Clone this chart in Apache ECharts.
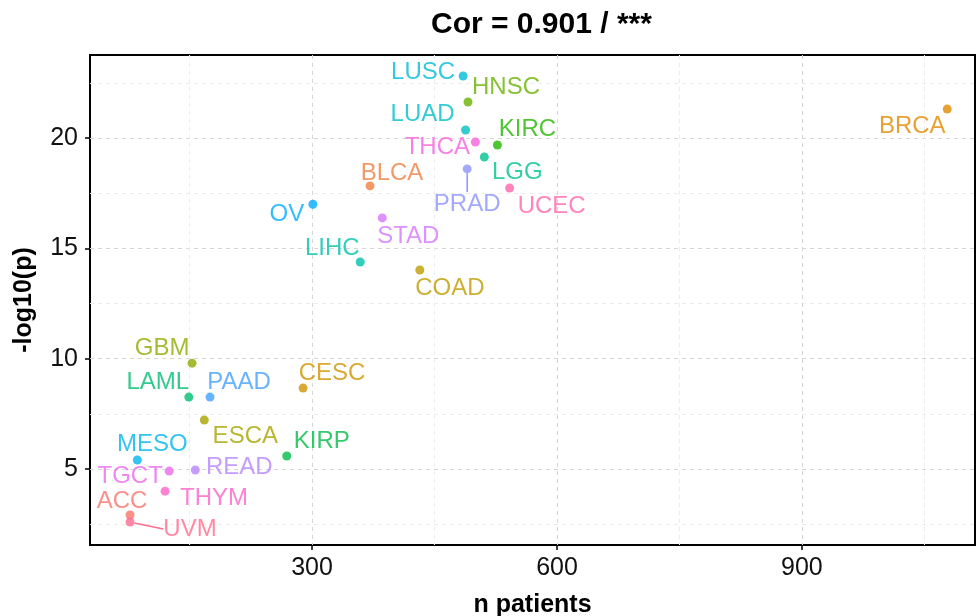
<!DOCTYPE html>
<html>
<head>
<meta charset="utf-8">
<title>Cor = 0.901</title>
<script src="https://cdn.jsdelivr.net/npm/echarts@6/dist/echarts.min.js"></script>
<style>
    html, body { margin: 0; padding: 0; background: #fff; }
    #chart { width: 978px; height: 616px; }
</style>
</head>
<body>
<div id="chart"></div>
<script>
// data
const cancers = ["ACC", "BLCA", "BRCA", "CESC", "COAD", "ESCA", "GBM", "HNSC", "KIRC", "KIRP",
    "LAML", "LGG", "LIHC", "LUAD", "LUSC", "MESO", "OV", "PAAD", "PRAD", "READ",
    "STAD", "TGCT", "THCA", "THYM", "UCEC", "UVM"]
const nPatients = [77, 371, 1078, 289, 432, 168, 153, 491, 527, 269,
    149, 511, 359, 488, 485, 86, 301, 175, 490, 157,
    386, 125, 500, 120, 542, 77]
const negLogP = [2.92, 17.83, 21.31, 8.67, 14.02, 7.22, 9.8, 21.63, 19.68, 5.59,
    8.26, 19.14, 14.38, 20.36, 22.81, 5.41, 17.0, 8.26, 18.6, 4.96,
    16.38, 4.91, 19.82, 4.0, 17.73, 2.6]
const xTicks = [300, 600, 900]
const xMinor = [150, 450, 750, 1050]
const yTicks = [5, 10, 15, 20]
const yMinor = [2.5, 7.5, 12.5, 17.5, 22.5]

// where the repelled labels sit, relative to their point (px)
const labelShift = {
    ACC: [-8, -15], BLCA: [22, -14], BRCA: [-35, 16], CESC: [29, -16], COAD: [30, 17],
    ESCA: [41, 15], GBM: [-30, -16], HNSC: [38, -16], KIRC: [30, -17], KIRP: [35, -16],
    LAML: [-31, -16], LGG: [33, 14], LIHC: [-28, -15], LUAD: [-43, -17], LUSC: [-40, -5],
    MESO: [15, -17], OV: [-26, 9], PAAD: [29, -16], PRAD: [0, 34], READ: [44, -4],
    STAD: [26, 17], TGCT: [-39, 4], THCA: [-38, 4], THYM: [49, 6], UCEC: [42, 17],
    UVM: [60, 6],
}
const withSegment = ["PRAD", "UVM"]

// ggplot2 default hue palette (hcl, c = 100, l = 65)
function hcl(h, c, l) {
    const hr = h * Math.PI / 180
    const U = c * Math.cos(hr), V = c * Math.sin(hr)
    const Y = l > 8 ? 100 * Math.pow((l + 16) / 116, 3) : 100 * l / 903.3
    const un = 0.1978398, vn = 0.4683363
    const u = U / (13 * l) + un, v = V / (13 * l) + vn
    const X = 9 * Y * u / (4 * v)
    const Z = -X / 3 - 5 * Y + 3 * Y / v
    const x = X / 100, y = Y / 100, z = Z / 100
    const lin = [
        3.240479 * x - 1.537150 * y - 0.498535 * z,
        -0.969256 * x + 1.875992 * y + 0.041556 * z,
        0.055648 * x - 0.204043 * y + 1.057311 * z,
    ]
    return "#" + lin.map(c => {
        let g = c <= 0.0031308 ? 12.92 * c : 1.055 * Math.pow(c, 1 / 2.4) - 0.055
        g = Math.round(Math.min(1, Math.max(0, g)) * 255)
        return g.toString(16).padStart(2, "0")
    }).join("")
}
const palette = cancers.map((_, i) => hcl(15 + i * 360 / cancers.length, 100, 65))

const font = "'Liberation Sans', Arial, Helvetica, sans-serif"

const points = cancers.map((name, i) => {
    const item = {
        name: name,
        value: [nPatients[i], negLogP[i]],
        itemStyle: { color: palette[i] },
        label: { color: palette[i] },
    }
    if (withSegment.includes(name)) {
        item.labelLine = { show: true, lineStyle: { color: palette[i], width: 1.5 } }
    }
    return item
})

function axisPair(min, max, major, minor, isX) {
    const main = {
        type: "value",
        min: min,
        max: max,
        axisLine: { show: false },
        axisTick: {
            show: true, inside: false, length: 5, customValues: major,
            lineStyle: { color: "#000", width: 1.5 },
        },
        axisLabel: {
            customValues: major, fontSize: 25, color: "#111", fontFamily: font,
            margin: isX ? 11 : 12,
            padding: isX ? 0 : [6, 0, 0, 0],
        },
        splitLine: { show: true, lineStyle: { color: "#d7d7d7", width: 1, type: [4, 4] } },
    }
    const sub = {
        type: "value",
        min: min,
        max: max,
        axisLine: { show: false },
        axisTick: { show: false, customValues: minor },
        axisLabel: { show: false },
        splitLine: { show: true, lineStyle: { color: "#ececec", width: 1, type: [4, 4] } },
    }
    return [main, sub]
}

const xAxes = axisPair(28, 1112, xTicks, xMinor, true)
xAxes[0].name = "n patients"
xAxes[0].nameLocation = "middle"
xAxes[0].nameGap = 48
xAxes[0].nameTextStyle = { fontSize: 25, fontWeight: "bold", color: "#000", fontFamily: font }
xAxes[0].position = "bottom"
xAxes[1].position = "top"

const yAxes = axisPair(1.56, 23.76, yTicks, yMinor, false)
yAxes[0].name = "-log10(p)"
yAxes[0].nameLocation = "middle"
yAxes[0].nameGap = 53
yAxes[0].nameTextStyle = { fontSize: 25, fontWeight: "bold", color: "#000", fontFamily: font }
yAxes[0].position = "left"
yAxes[1].position = "right"

const chart = echarts.init(document.getElementById("chart"), null, { renderer: "canvas" })
chart.setOption({
    animation: false,
    backgroundColor: "#fff",
    title: {
        text: "Cor = 0.901 / ***",
        left: 426,
        top: 5,
        textStyle: { fontSize: 30, fontWeight: "bold", color: "#000", fontFamily: font },
    },
    grid: {
        left: 90,
        right: 3,
        top: 55,
        bottom: 71,
        containLabel: false,
        outerBoundsMode: "none",
        show: true,
        borderColor: "#000",
        borderWidth: 2,
        backgroundColor: "transparent",
    },
    xAxis: xAxes,
    yAxis: yAxes,
    series: [
        {
            type: "scatter",
            xAxisIndex: 0,
            yAxisIndex: 0,
            symbolSize: 9,
            data: points,
            label: {
                show: true,
                position: "inside",
                formatter: "{b}",
                fontSize: 24,
                fontFamily: font,
            },
            labelLayout: function (params) {
                const s = labelShift[cancers[params.dataIndex]]
                return { dx: s[0], dy: s[1] + 1 }
            },
            emphasis: { disabled: true },
        },
    ],
})
</script>
</body>
</html>
